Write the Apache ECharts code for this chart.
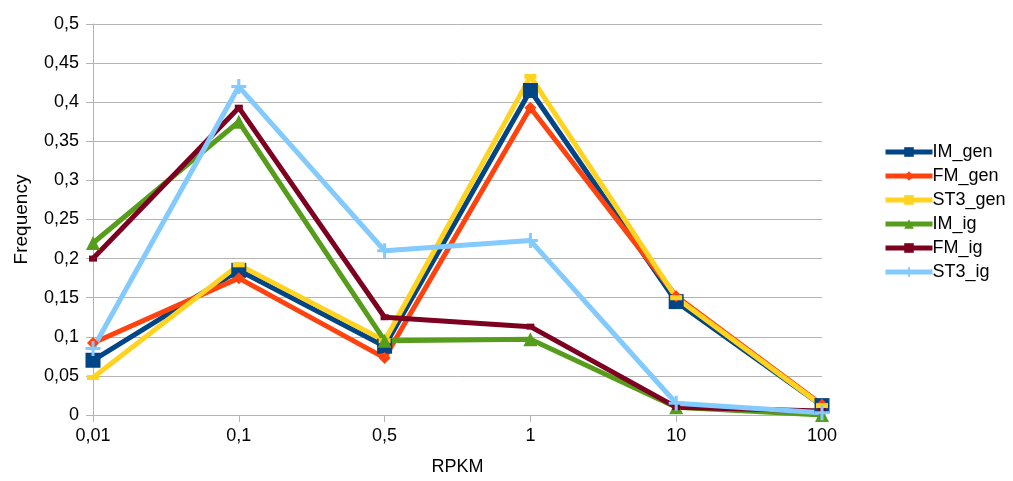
<!DOCTYPE html>
<html><head><meta charset="utf-8">
<script src="https://cdn.jsdelivr.net/npm/echarts@6/dist/echarts.min.js"></script>
<style>html,body{margin:0;padding:0;background:#fff}#c{width:1013px;height:481px}</style>
</head><body><div id="c"></div>
<script>
const categories = ['0,01','0,1','0,5','1','10','100'];
const IM_gen  = [0.070, 0.185, 0.088, 0.415, 0.145, 0.012];
const FM_gen  = [0.092, 0.175, 0.073, 0.393, 0.152, 0.013];
const ST3_gen = [0.048, 0.192, 0.095, 0.433, 0.150, 0.012];
const IM_ig   = [0.220, 0.375, 0.095, 0.097, 0.010, 0.000];
const FM_ig   = [0.200, 0.393, 0.125, 0.113, 0.010, 0.005];
const ST3_ig  = [0.085, 0.420, 0.210, 0.223, 0.015, 0.003];
const seriesNames = ['IM_gen','FM_gen','ST3_gen','IM_ig','FM_ig','ST3_ig'];
const seriesData = [IM_gen, FM_gen, ST3_gen, IM_ig, FM_ig, ST3_ig];
const colors = ['#004586','#ff420e','#ffd320','#579d1c','#7e0021','#83caff'];
const symbols = ['rect','diamond','rect','triangle','rect','path://M5,0 L5,10 M0,5 L10,5'];
const symbolSizes = [15, 12, [12,5], 14, [8,6], 15];

const font = 'Liberation Sans, Arial, sans-serif';
const chart = echarts.init(document.getElementById('c'));
chart.setOption({
  animation: false,
  color: colors,
  grid: {left: 93, right: 191, top: 24, bottom: 65, containLabel: false},
  legend: {
    orient: 'vertical', left: 883, top: 143, padding: 0,
    itemWidth: 47, itemHeight: 12, itemGap: 6,
    lineStyle: {width: 5},
    textStyle: {fontFamily: font, fontSize: 18, color: '#000', padding: [0,0,0,-5]},
    data: seriesNames
  },
  xAxis: {
    type: 'category', data: categories, boundaryGap: false,
    name: 'RPKM', nameLocation: 'middle', nameGap: 43,
    nameTextStyle: {fontFamily: font, fontSize: 18, color: '#000'},
    axisLine: {lineStyle: {color: '#b3b3b3', width: 1}},
    axisTick: {show: true, length: 7, lineStyle: {color: '#b3b3b3'}},
    axisLabel: {fontFamily: font, fontSize: 18, color: '#000', margin: 12},
    splitLine: {show: false}
  },
  yAxis: {
    type: 'value', min: 0, max: 0.5, interval: 0.05,
    name: 'Frequency', nameLocation: 'middle', nameGap: 62,
    nameTextStyle: {fontFamily: font, fontSize: 19, color: '#000'},
    axisLine: {show: true, lineStyle: {color: '#b3b3b3', width: 1}},
    axisTick: {show: true, length: 7, lineStyle: {color: '#b3b3b3'}},
    axisLabel: {fontFamily: font, fontSize: 18, color: '#000', margin: 14,
      formatter: v => String(+v.toFixed(2)).replace('.', ',')},
    splitLine: {lineStyle: {color: '#b3b3b3', width: 1}}
  },
  series: seriesNames.map((n, i) => ({
    name: n, type: 'line', data: seriesData[i],
    symbol: symbols[i], symbolSize: symbolSizes[i], showSymbol: true,
    lineStyle: {width: 5, color: colors[i]},
    itemStyle: {color: colors[i], borderColor: colors[i], borderWidth: i === 5 ? 3 : 0}
  }))
});
</script></body></html>
